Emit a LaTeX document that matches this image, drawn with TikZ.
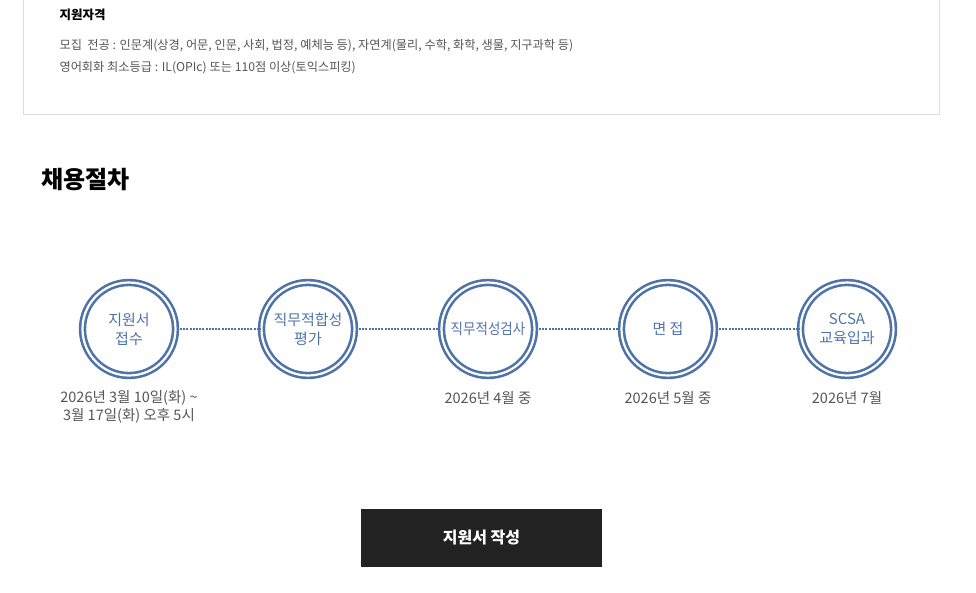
\documentclass[tikz,border=0pt]{standalone}
\usepackage{fontspec}
\setmainfont{Noto Sans CJK KR}
\definecolor{stepblue}{HTML}{4F73A8}
\definecolor{txtgray}{HTML}{555555}
\definecolor{boxline}{HTML}{DDDDDD}
\definecolor{btndark}{HTML}{222222}
\begin{document}
\begin{tikzpicture}[x=1pt,y=-1pt,
  stage/.style={draw=stepblue, line width=2.6pt, circle, minimum size=93pt, inner sep=0pt,
    text=stepblue, align=center, font=\fontsize{15}{19}\selectfont,
    double=white, double distance=2.2pt},
  when/.style={text=txtgray, align=center, font=\fontsize{14.5}{18}\selectfont},
  info/.style={text=txtgray, anchor=west, font=\fontsize{12.2}{14}\selectfont},
  link/.style={draw=stepblue, line width=2.2pt, dash pattern=on 2pt off 1.2pt}]
\path[use as bounding box] (0,0) rectangle (976,592);

% qualification box
\draw[boxline, line width=1pt] (23,-5) -- (23,114) -- (939,114) -- (939,-5);
\node[anchor=west, font=\fontsize{12.5}{14}\selectfont\bfseries] (qual) at (56,15) {지원자격};
\node[info] (major) at (56,46) {모집\ \ 전공 : 인문계(상경, 어문, 인문, 사회, 법정, 예체능 등), 자연계(물리, 수학, 화학, 생물, 지구과학 등)};
\node[info] (lang) at (56,68) {영어회화 최소등급 : IL(OPIc) 또는 110점 이상(토익스피킹)};

\node[anchor=west, font=\fontsize{24}{28}\selectfont\bfseries] (title) at (38,180) {채용절차};

% steps
\node[stage] (s1) at (129,329) {지원서\\접수};
\node[stage] (s2) at (308,329) {직무적합성\\평가};
\node[stage] (s3) at (488,329) {\scalebox{0.9}[1]{직무적성검사}};
\node[stage] (s4) at (668,329) {면 접};
\node[stage] (s5) at (847,329) {SCSA\\교육입과};

\path[link] (s1) -- (s2);
\path[link] (s2) -- (s3);
\path[link] (s3) -- (s4);
\path[link] (s4) -- (s5);

\node[when] (d1) at (129,407) {2026년 3월 10일(화) \textasciitilde\\3월 17일(화) 오후 5시};
\node[when] (d3) at (488,398) {2026년 4월 중};
\node[when] (d4) at (668,398) {2026년 5월 중};
\node[when] (d5) at (847,398) {2026년 7월};

% button
\node[fill=btndark, minimum width=241pt, minimum height=58pt, text=white,
  font=\fontsize{16}{19}\selectfont\bfseries] (apply) at (481.5,538) {지원서 작성};
\end{tikzpicture}
\end{document}
